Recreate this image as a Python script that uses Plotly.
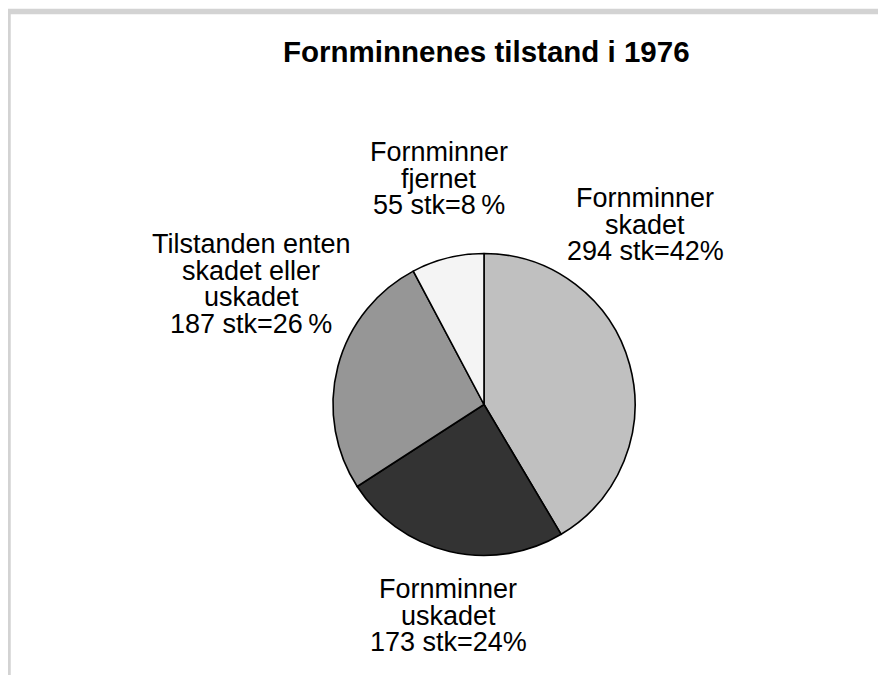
import plotly.graph_objects as go

# Data
categories = ["Fornminner skadet", "Fornminner uskadet",
              "Tilstanden enten skadet eller uskadet", "Fornminner fjernet"]
counts = [294, 173, 187, 55]
percent_labels = ["42%", "24%", "26\u2009%", "8\u2009%"]
label_lines = [
    ["Fornminner", "skadet"],
    ["Fornminner", "uskadet"],
    ["Tilstanden enten", "skadet eller", "uskadet"],
    ["Fornminner", "fjernet"],
]
colors = ["#c0c0c0", "#333333", "#969696", "#f4f4f4"]
title = "Fornminnenes tilstand i 1976"

# page has an 8px body margin; figure sized so it fits the 886x675 window
OFF = 8
W, H = 886 - OFF, 675 - OFF
FONT = "Liberation Sans, Arial, sans-serif"

def px(x):
    return (x - OFF) / W

def py(y):
    return 1 - (y - OFF) / H

cx, cy, r = 484, 404.5, 151

fig = go.Figure(go.Pie(
    labels=categories,
    values=counts,
    marker=dict(colors=colors, line=dict(color="#000000", width=1.6)),
    sort=False,
    direction="clockwise",
    rotation=0,
    textinfo="none",
    hoverinfo="label+value+percent",
    showlegend=False,
    domain=dict(x=[px(cx - r), px(cx + r)], y=[py(cy + r), py(cy - r)]),
))

# label anchor positions (center x, first-line center y) in window pixels
label_pos = [(645, 198), (448, 589), (251, 244), (439, 152)]
line_gap = 26.5

annotations = []
for i, lines in enumerate(label_lines):
    full = lines + [f"{counts[i]} stk={percent_labels[i]}"]
    x0, y0 = label_pos[i]
    for j, t in enumerate(full):
        annotations.append(dict(
            x=px(x0), y=py(y0 + j * line_gap), xref="paper", yref="paper",
            text=t, showarrow=False, xanchor="center", yanchor="middle",
            borderpad=0,
            font=dict(family=FONT, size=27, color="#000000"),
        ))

annotations.append(dict(
    x=px(486), y=py(52), xref="paper", yref="paper",
    text=f"<b>{title}</b>", showarrow=False, xanchor="center", yanchor="middle",
    font=dict(family=FONT, size=29.5, color="#000000"),
))

shapes = [
    dict(type="line", xref="paper", yref="paper",
         x0=px(5), x1=px(900), y0=py(11.5), y1=py(11.5),
         line=dict(color="#d3d3d3", width=5.5)),
    dict(type="line", xref="paper", yref="paper",
         x0=px(8), x1=px(8), y0=py(9), y1=py(700),
         line=dict(color="#d3d3d3", width=5.5)),
]

fig.update_layout(
    width=W, height=H,
    margin=dict(l=0, r=0, t=0, b=0),
    paper_bgcolor="#ffffff",
    plot_bgcolor="#ffffff",
    annotations=annotations,
    shapes=shapes,
    font=dict(family=FONT),
)

fig.write_html("out.html")
